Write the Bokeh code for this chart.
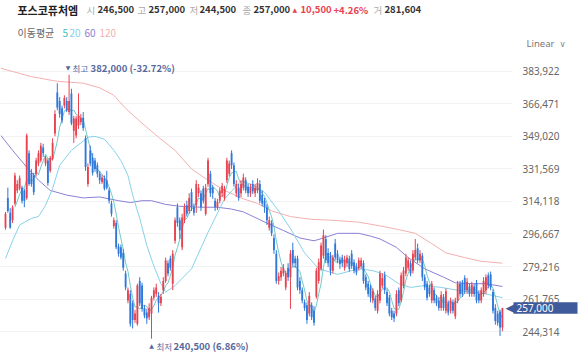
from bokeh.plotting import figure
from bokeh.models import Range1d, FixedTicker, NumeralTickFormatter, Label, ColumnDataSource, BoxAnnotation
from bokeh.embed import file_html
from bokeh.resources import INLINE

# ---------------- data (prices in thousand won) ----------------
open_k = [
    300.0, 316.0, 308.0, 304.0, 313.0, 320.0, 321.0, 321.5, 320.0, 316.0,
    340.0, 329.5, 328.0, 329.0, 334.5, 336.0, 343.0, 334.5, 336.0, 330.5,
    337.0, 350.5, 372.5, 368.0, 364.0, 365.5, 368.0, 362.0, 372.0, 352.0,
    349.5, 355.0, 356.5, 359.0, 348.0, 323.5, 341.5, 337.5, 336.0, 333.5,
    329.0, 324.5, 326.5, 325.5, 320.0, 313.0, 301.0, 302.5, 290.0, 289.5,
    286.5, 275.5, 261.0, 264.5, 259.5, 250.5, 248.5, 271.5, 269.0, 257.0,
    254.5, 252.0, 254.0, 262.5, 264.5, 263.5, 259.5, 266.5, 271.5, 281.0,
    283.5, 270.0, 293.0, 311.0, 304.0, 289.5, 304.0, 312.0, 309.0, 319.0,
    311.0, 312.0, 318.5, 318.5, 321.0, 307.5, 323.5, 329.0, 321.5, 314.5,
    311.0, 314.5, 318.5, 316.0, 325.5, 329.0, 340.0, 333.5, 318.5, 321.5,
    318.5, 321.5, 325.5, 322.0, 318.5, 323.5, 318.5, 320.0, 323.5, 317.5,
    314.5, 311.0, 300.0, 302.5, 294.5, 286.0, 271.5, 273.5, 275.5, 268.0,
    278.5, 273.5, 288.0, 283.5, 283.5, 271.5, 266.5, 260.0, 258.5, 254.0,
    258.5, 255.5, 263.0, 271.5, 278.0, 285.0, 294.0, 286.5, 285.0, 277.0,
    291.5, 286.0, 283.0, 284.0, 278.5, 281.0, 283.5, 286.0, 281.5, 279.0,
    278.5, 279.5, 281.0, 273.5, 270.0, 268.0, 261.0, 262.0, 255.5, 261.0,
    269.0, 274.5, 265.5, 262.5, 255.5, 254.0, 254.0, 266.5, 261.0, 269.0,
    275.5, 278.5, 281.0, 277.0, 284.0, 289.0, 282.5, 285.0, 273.5, 270.0,
    268.0, 261.0, 266.5, 262.5, 261.0, 257.0, 263.0, 255.5, 259.5, 255.5,
    260.0, 252.5, 261.0, 270.0, 270.5, 273.0, 266.5, 268.5, 264.5, 268.5,
    270.5, 264.5, 261.0, 264.5, 266.5, 274.5, 275.0, 265.5, 257.0, 254.0,
    255.0, 246.5,
]
high_k = [
    308.5, 321.5, 310.5, 312.0, 329.5, 325.5, 328.0, 322.5, 321.0, 350.5,
    341.5, 331.5, 329.5, 337.5, 341.5, 345.5, 345.0, 338.5, 337.0, 338.5,
    348.0, 363.0, 377.5, 370.0, 365.5, 371.0, 370.0, 382.0, 374.5, 360.0,
    360.0, 372.0, 361.0, 362.0, 349.5, 334.5, 344.0, 340.0, 337.5, 335.0,
    330.5, 328.5, 328.0, 330.5, 321.5, 314.5, 305.5, 304.0, 291.5, 291.0,
    288.5, 277.0, 268.0, 266.5, 261.0, 256.0, 270.0, 273.5, 270.5, 258.5,
    256.5, 259.5, 263.5, 268.0, 270.0, 265.5, 264.5, 273.5, 284.0, 282.5,
    285.0, 288.0, 305.5, 313.0, 305.5, 307.5, 313.0, 314.5, 318.5, 321.0,
    313.0, 325.5, 323.5, 320.0, 322.5, 323.5, 337.5, 330.5, 323.0, 316.0,
    315.5, 321.5, 324.0, 322.5, 337.5, 336.0, 341.5, 335.0, 325.5, 323.5,
    325.5, 329.0, 327.0, 323.5, 323.5, 325.5, 323.5, 326.5, 325.5, 320.0,
    316.0, 312.5, 306.0, 304.0, 296.5, 288.0, 276.0, 279.0, 280.5, 277.0,
    281.0, 288.0, 292.0, 285.0, 285.0, 273.5, 268.0, 261.5, 260.0, 265.5,
    260.0, 258.0, 278.5, 283.5, 292.0, 299.0, 296.0, 289.0, 287.0, 285.5,
    294.0, 288.0, 284.5, 285.5, 285.0, 285.5, 285.0, 288.0, 283.0, 281.0,
    284.0, 284.0, 282.5, 275.0, 271.5, 269.5, 267.5, 263.5, 266.5, 277.0,
    275.5, 276.5, 267.0, 264.0, 257.0, 255.5, 266.5, 268.0, 276.0, 279.0,
    286.0, 284.0, 282.5, 288.0, 294.0, 291.5, 288.0, 286.5, 275.0, 271.5,
    269.5, 271.5, 268.0, 264.0, 262.5, 266.0, 264.5, 267.5, 261.0, 262.5,
    261.5, 262.5, 271.5, 271.5, 272.0, 274.5, 273.0, 270.0, 271.0, 270.0,
    272.0, 266.5, 268.0, 273.5, 275.0, 276.0, 276.5, 267.0, 259.0, 255.5,
    256.0, 257.0,
]
low_k = [
    299.0, 308.0, 299.5, 302.5, 312.0, 318.5, 320.0, 313.0, 311.0, 315.0,
    322.5, 322.0, 317.5, 327.5, 333.0, 335.0, 338.0, 333.0, 322.5, 329.5,
    336.0, 349.0, 363.0, 359.0, 356.0, 364.0, 362.0, 360.5, 355.0, 345.5,
    348.0, 353.0, 355.0, 352.0, 330.5, 322.0, 333.0, 328.0, 330.0, 327.0,
    323.5, 323.5, 320.0, 320.5, 313.0, 306.0, 299.5, 288.5, 284.5, 283.0,
    277.0, 266.5, 259.5, 247.0, 246.0, 249.0, 247.5, 258.0, 255.0, 251.5,
    248.5, 250.5, 240.5, 261.0, 263.0, 254.5, 258.0, 264.5, 270.5, 274.0,
    277.0, 266.5, 291.5, 300.5, 294.0, 288.0, 302.5, 306.0, 307.5, 309.0,
    306.5, 308.0, 316.5, 309.0, 313.0, 306.5, 322.0, 316.5, 315.5, 309.0,
    309.5, 313.0, 316.5, 314.5, 324.0, 327.5, 331.5, 322.0, 316.5, 314.5,
    316.5, 320.0, 318.5, 316.5, 316.5, 318.0, 316.5, 318.5, 313.0, 311.5,
    308.0, 301.5, 298.5, 295.5, 286.0, 270.0, 269.5, 271.5, 274.0, 266.5,
    271.5, 256.5, 279.0, 278.5, 266.5, 264.5, 259.5, 255.5, 248.5, 252.5,
    250.5, 247.5, 262.0, 270.0, 277.0, 283.5, 281.0, 279.0, 274.5, 275.5,
    282.5, 281.0, 278.0, 279.0, 277.0, 279.0, 276.5, 278.0, 275.5, 274.5,
    277.0, 278.0, 270.0, 266.5, 263.0, 260.0, 259.5, 255.5, 254.0, 259.5,
    267.5, 264.5, 258.0, 252.5, 250.5, 249.5, 252.5, 258.0, 260.0, 267.5,
    274.0, 277.0, 274.0, 275.5, 282.5, 281.0, 281.0, 271.5, 266.5, 261.0,
    263.0, 259.5, 259.5, 258.0, 255.5, 255.5, 255.5, 254.0, 253.0, 254.0,
    254.0, 251.0, 259.5, 263.0, 263.0, 264.5, 264.5, 263.0, 263.0, 263.0,
    259.5, 259.5, 259.5, 263.0, 264.5, 267.5, 266.5, 254.0, 248.0, 247.5,
    242.0, 244.5,
]
close_k = [
    307.5, 309.0, 300.0, 311.0, 328.0, 323.5, 326.5, 314.5, 314.5, 349.5,
    323.5, 323.5, 319.0, 336.0, 340.0, 344.0, 340.0, 337.5, 324.0, 337.5,
    345.5, 361.0, 364.5, 361.0, 357.5, 369.5, 363.0, 368.0, 356.0, 358.5,
    358.5, 360.0, 359.0, 353.5, 332.5, 332.5, 334.5, 329.5, 331.5, 329.0,
    325.5, 327.0, 321.0, 321.5, 314.5, 307.5, 304.0, 289.5, 286.0, 284.0,
    278.5, 268.0, 266.5, 248.5, 250.5, 254.0, 269.0, 259.5, 256.5, 253.0,
    251.5, 257.0, 262.5, 266.5, 268.0, 259.5, 263.0, 271.5, 282.5, 275.5,
    278.5, 286.0, 304.0, 302.5, 298.5, 305.5, 311.0, 307.5, 316.0, 311.0,
    308.0, 323.5, 321.5, 311.0, 314.5, 321.5, 336.0, 318.5, 318.5, 311.0,
    314.0, 320.0, 322.5, 321.0, 336.0, 334.5, 333.5, 323.5, 323.5, 316.0,
    323.5, 327.0, 320.0, 318.5, 321.5, 319.5, 321.5, 324.0, 314.5, 313.0,
    311.0, 304.0, 304.0, 297.0, 288.0, 271.5, 274.0, 277.0, 278.5, 275.5,
    273.5, 286.0, 281.0, 281.0, 268.0, 266.5, 261.0, 257.0, 250.5, 263.5,
    252.0, 249.0, 277.0, 281.5, 290.5, 296.0, 282.5, 281.0, 277.0, 284.0,
    284.0, 282.5, 280.5, 281.0, 283.0, 284.0, 278.0, 279.5, 277.0, 276.0,
    282.5, 282.5, 271.5, 268.0, 264.5, 262.5, 266.0, 257.0, 264.5, 275.5,
    273.0, 266.5, 259.5, 254.0, 252.0, 251.5, 264.5, 259.5, 274.5, 277.0,
    284.0, 282.5, 275.5, 286.0, 288.0, 282.5, 286.0, 273.5, 268.0, 262.5,
    264.5, 270.0, 261.0, 259.5, 257.0, 264.0, 257.0, 266.0, 254.5, 261.0,
    255.5, 261.0, 270.0, 264.5, 264.5, 266.5, 271.0, 264.5, 269.5, 264.5,
    261.0, 261.0, 266.5, 271.5, 273.5, 269.0, 268.0, 255.5, 250.0, 249.0,
    246.5, 257.0,
]

# moving averages (trading-day index, thousand won)
ma20_day = [0, 3, 6, 11, 14, 17, 20, 23, 28, 32, 35, 38, 42, 46, 49, 52, 54, 57, 60, 63, 66, 68,
            72, 79, 86, 93, 100, 105, 110, 116, 121, 127, 133, 141, 150, 156, 161, 167, 172, 178,
            185, 192, 198, 204, 211]
ma20_k = [283.5, 293.0, 301.5, 305.0, 306.0, 312.0, 321.0, 333.5, 341.5, 345.5, 348.5, 349.0, 347.5,
          341.5, 336.0, 328.0, 317.5, 305.0, 290.5, 279.5, 270.0, 265.5, 269.0, 278.0, 297.5, 315.5,
          325.0, 323.0, 319.0, 309.0, 299.5, 286.5, 278.0, 275.0, 278.0, 277.0, 275.0, 270.0, 268.0,
          269.0, 268.0, 266.5, 265.5, 264.5, 262.5]
ma60_day = [-2, 3, 9, 14, 19, 26, 33, 40, 48, 53, 58, 62, 68, 74, 83, 90, 96, 101, 106, 111, 118,
            125, 131, 135, 141, 150, 155, 159, 166, 171, 178, 186, 191, 198, 204, 211]
ma60_k = [349.5, 341.5, 332.5, 325.5, 320.0, 317.5, 316.0, 316.5, 314.5, 313.5, 314.5, 314.5, 312.5,
          311.5, 311.0, 311.0, 310.0, 308.5, 305.5, 302.5, 298.5, 294.5, 293.0, 294.5, 297.0, 297.0,
          295.5, 294.0, 289.5, 284.0, 278.0, 273.5, 270.5, 270.0, 270.0, 268.5]
ma120_day = [-2, 11, 22, 33, 40, 46, 51, 58, 65, 72, 79, 86, 93, 101, 107, 113, 121, 130, 139, 150,
             159, 167, 174, 181, 187, 195, 202, 211]
ma120_k = [385.5, 381.0, 378.5, 377.5, 375.0, 371.0, 364.0, 356.0, 348.5, 341.5, 331.5, 325.5, 320.0,
           315.5, 313.0, 309.0, 306.0, 304.5, 304.0, 303.0, 301.0, 299.0, 297.0, 291.5, 286.5, 284.0,
           282.0, 281.0]

tick_values = [244314, 261765, 279216, 296667, 314118, 331569, 349020, 366471, 383922]

# ---------------- styling ----------------
RED = "#e8424f"
BLUE = "#2f78da"
C5, C20, C60, C120 = "#4dbdb5", "#86d2ea", "#8b80d6", "#f3b0b0"
KR = "Noto Sans CJK KR"
W, H = 580, 356
X0, X1 = -2.123, 244.16       # visible day range over the whole width
Y0, Y1R = 230972, 421824      # visible price range over the whole height
AXIS_DAY = 213.6              # where the price scale starts (right edge of the chart area)
PX = (Y1R - Y0) / H           # won per screen pixel

K = 1000
o = [v * K for v in open_k]
h = [v * K for v in high_k]
l = [v * K for v in low_k]
c = [v * K for v in close_k]
n = len(c)
days = list(range(n))
colors = [RED if cc >= oo else BLUE for oo, cc in zip(o, c)]
top = [max(oo, cc) for oo, cc in zip(o, c)]
bot = [min(oo, cc) for oo, cc in zip(o, c)]
top = [t if t - b >= 400 else b + 400 for t, b in zip(top, bot)]
src = ColumnDataSource(dict(x=days, h=h, l=l, top=top, bot=bot, color=colors))

ma5_day = days[4:]
ma5 = [sum(c[i - 4:i + 1]) / 5 for i in ma5_day]

p = figure(width=W, height=H, x_range=Range1d(X0, X1), y_range=Range1d(Y0, Y1R),
           output_backend="svg", toolbar_location=None, x_axis_location=None,
           y_axis_location="right", min_border_left=0, min_border_right=0,
           min_border_top=0, min_border_bottom=0)
p.outline_line_color = None
p.xgrid.visible = False
p.ygrid.grid_line_color = "#f1f2f4"
ax = p.yaxis[0]
ax.fixed_location = AXIS_DAY
ax.ticker = FixedTicker(ticks=tick_values)
ax.formatter = NumeralTickFormatter(format="0,0")
ax.axis_line_color = None
ax.major_tick_line_color = None
ax.minor_tick_line_color = None
ax.major_label_text_font = "Noto Sans"
ax.major_label_text_font_size = "10px"
ax.major_label_text_color = "#666666"
ax.major_label_standoff = 8

# keep grid lines out of the price-scale strip
p.add_layout(BoxAnnotation(left=AXIS_DAY + 1.5, fill_color="white", fill_alpha=1.0,
                           line_color=None, level="underlay"))

# moving averages
p.line(ma120_day, [v * K for v in ma120_k], line_color=C120, line_width=1)
p.line(ma60_day, [v * K for v in ma60_k], line_color=C60, line_width=1)
p.line(ma20_day, [v * K for v in ma20_k], line_color=C20, line_width=1)
p.line(ma5_day, ma5, line_color=C5, line_width=1, line_alpha=0.8)

# candles
p.segment("x", "h", "x", "l", source=src, line_color="color", line_width=1)
p.vbar(x="x", width=0.78, top="top", bottom="bot", source=src, fill_color="color", line_color=None)


def put(text, x, y_canvas, size, color, bold=False, font=KR, align="left"):
    p.add_layout(Label(x=x, y=H - y_canvas, x_units="screen", y_units="screen", text=text,
                       text_font=font, text_font_size=f"{size}px", text_color=color,
                       text_font_style="bold" if bold else "normal", text_baseline="middle",
                       text_align=align))


# header line 1
YH = 9
NUM = 9.5
put("포스코퓨처엠", 17, YH, 11, "#222222", bold=True)
put("시", 86, YH, 9.5, "#aaaaaa")
put("246,500", 97, YH, NUM, "#333333", bold=True)
put("고", 137, YH, 9.5, "#aaaaaa")
put("257,000", 148, YH, NUM, "#333333", bold=True)
put("저", 189, YH, 9.5, "#aaaaaa")
put("244,500", 199, YH, NUM, "#333333", bold=True)
put("종", 242, YH, 9.5, "#aaaaaa")
put("257,000", 253, YH, NUM, "#333333", bold=True)
put("▲", 292, YH, 6, RED, font="DejaVu Sans")
put("10,500", 300, YH, NUM, RED, bold=True)
put("+4.26%", 333, YH, NUM, RED, bold=True)
put("거", 373, YH, 9.5, "#aaaaaa")
put("281,604", 384, YH, NUM, "#333333", bold=True)

# header line 2 (legend)
Y2 = 32
put("이동평균", 17, Y2, 10, "#666666")
put("5", 62, Y2, 10, C5)
put("20", 69, Y2, 10, C20)
put("60", 84, Y2, 10, C60)
put("120", 99, Y2, 10, C120)

put("Linear", 526, 43, 9.5, "#777777", font="Noto Sans")
put("∨", 559, 43, 8.5, "#888888", font="DejaVu Sans")

# high / low markers
hi_i = max(range(n), key=lambda i: h[i])
lo_i = min(range(n), key=lambda i: l[i])
ANN = "#56689e"
p.add_layout(Label(x=hi_i, y=h[hi_i], y_offset=7, x_offset=-1, text="▼", text_font="DejaVu Sans",
                   text_font_size="6px", text_color=ANN, text_align="center", text_baseline="middle"))
p.add_layout(Label(x=hi_i, y=h[hi_i], y_offset=7, x_offset=3.5, text="최고", text_font=KR,
                   text_font_size="8.5px", text_color=ANN, text_baseline="middle"))
p.add_layout(Label(x=hi_i, y=h[hi_i], y_offset=7, x_offset=21.5, text="382,000 (-32.72%)", text_font=KR,
                   text_font_size="9.5px", text_font_style="bold", text_color=ANN, text_baseline="middle"))
p.add_layout(Label(x=lo_i, y=l[lo_i], y_offset=-7, x_offset=0, text="▲", text_font="DejaVu Sans",
                   text_font_size="6px", text_color=ANN, text_align="center", text_baseline="middle"))
p.add_layout(Label(x=lo_i, y=l[lo_i], y_offset=-7, x_offset=5, text="최저", text_font=KR,
                   text_font_size="8.5px", text_color=ANN, text_baseline="middle"))
p.add_layout(Label(x=lo_i, y=l[lo_i], y_offset=-7, x_offset=22, text="240,500 (6.86%)", text_font=KR,
                   text_font_size="9.5px", text_font_style="bold", text_color=ANN, text_baseline="middle"))

# last price tag on the price scale
TAG = "#3f5b9c"
p.add_layout(BoxAnnotation(left=513, right=577, left_units="screen", right_units="screen",
                           top=c[-1] + 5.8 * PX, bottom=c[-1] - 5.8 * PX,
                           fill_color=TAG, fill_alpha=1.0, line_color=None))
p.add_layout(Label(x=AXIS_DAY, y=c[-1], x_offset=7, text="◀", text_font="DejaVu Sans",
                   text_font_size="13px", text_color=TAG, text_baseline="middle", text_align="right"))
p.add_layout(Label(x=AXIS_DAY, y=c[-1], x_offset=8, text="257,000", text_font="Noto Sans",
                   text_font_size="10px", text_color="white", text_baseline="middle"))

open("out.html", "w").write(file_html(p, INLINE))
